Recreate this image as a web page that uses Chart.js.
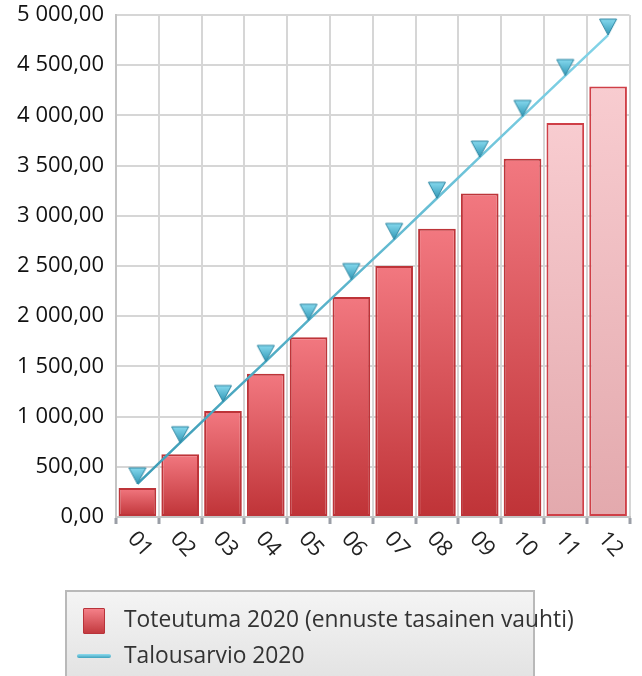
<!DOCTYPE html>
<html>
<head>
<meta charset="utf-8">
<script src="https://cdn.jsdelivr.net/npm/chart.js@4.4.0/dist/chart.umd.min.js"></script>
<style>
  html, body { margin: 0; padding: 0; background: #fff; }
  #wrap { position: relative; width: 642px; height: 676px; }
  #legend {
    position: absolute; left: 65px; top: 590px; width: 466px; height: 100px;
    border: 2px solid #b9b9b9; background: linear-gradient(#f4f4f4, #e0e0e0);
    font-family: "Open Sans", sans-serif; font-size: 22.8px; color: #333;
  }
  .item { position: absolute; left: 0; }
  .item span { position: absolute; left: 57px; white-space: nowrap; line-height: 30px; }
  .sq { position: absolute; left: 16px; width: 20px; height: 24px; border: 1px solid #b8333a;
        background: linear-gradient(#f48088, #c33a3f); border-radius: 1px; }
  .ln { position: absolute; left: 10px; width: 34px; height: 4px; border-radius: 2px;
        background: linear-gradient(#8fdcef, #3ea2bd); }
</style>
</head>
<body>
<div id="wrap">
  <canvas id="chart" width="642" height="676"></canvas>
  <div id="legend">
    <div class="item" style="top:28px"><div class="sq" style="top:-12px"></div><span style="top:-16px">Toteutuma 2020 (ennuste tasainen vauhti)</span></div>
    <div class="item" style="top:64px"><div class="ln" style="top:-2px"></div><span style="top:-16px">Talousarvio 2020</span></div>
  </div>
</div>
<script>
const months = ['01', '02', '03', '04', '05', '06', '07', '08', '09', '10', '11', '12'];
const actual = [290, 625, 1055, 1427, 1790, 2190, 2500, 2870, 3222, 3567, 3924, 4287];
const forecast = [false, false, false, false, false, false, false, false, false, false, true, true];
const budget = [330, 740, 1150, 1550, 1960, 2365, 2765, 3175, 3585, 3990, 4397, 4800];

function fiNumber(v) {
  const parts = v.toFixed(2).split('.');
  return parts[0].replace(/\B(?=(\d{3})+(?!\d))/g, ' ') + ',' + parts[1];
}

// downward triangle whose tip sits at the image centre (so the tip marks the value)
function makeMarker() {
  const c = document.createElement('canvas');
  c.width = 20;
  c.height = 36;
  const g = c.getContext('2d');
  const grad = g.createLinearGradient(0, 2, 0, 18);
  grad.addColorStop(0, '#86d9ee');
  grad.addColorStop(1, '#3198b6');
  g.beginPath();
  g.moveTo(1.5, 2);
  g.lineTo(18.5, 2);
  g.lineTo(10, 18);
  g.closePath();
  g.fillStyle = grad;
  g.fill();
  g.strokeStyle = '#2a84a0';
  g.lineWidth = 1;
  g.stroke();
  return c;
}
const marker = makeMarker();

function barFill(context) {
  const chart = context.chart;
  const y = chart.scales.y;
  if (!chart.chartArea || !y || context.dataIndex === undefined) return '#d9555b';
  const top = y.getPixelForValue(actual[context.dataIndex]);
  const bottom = y.getPixelForValue(0);
  const g = chart.ctx.createLinearGradient(0, top, 0, bottom);
  if (forecast[context.dataIndex]) {
    g.addColorStop(0, '#f8ccd0');
    g.addColorStop(1, '#e3a9ad');
  } else {
    g.addColorStop(0, '#f27880');
    g.addColorStop(1, '#bf3337');
  }
  return g;
}

function lineStroke(context) {
  const chart = context.chart;
  if (!chart.chartArea) return '#6cc6dd';
  const a = chart.chartArea;
  const g = chart.ctx.createLinearGradient(a.left, 0, a.right, 0);
  g.addColorStop(0, '#3a9ab4');
  g.addColorStop(1, '#86d6ea');
  return g;
}

// x labels rotated clockwise, starting at the tick
const slantedLabels = {
  id: 'slantedLabels',
  afterDraw(chart) {
    const ctx = chart.ctx;
    const x = chart.scales.x;
    const top = chart.chartArea.bottom;
    ctx.save();
    ctx.font = '22px "Open Sans"';
    ctx.fillStyle = '#222';
    ctx.textAlign = 'left';
    ctx.textBaseline = 'middle';
    months.forEach((m, i) => {
      const px = x.getPixelForValue(i);
      ctx.save();
      ctx.translate(px - 6, top + 18);
      ctx.rotate(48 * Math.PI / 180);
      ctx.fillText(m, 0, 0);
      ctx.restore();
    });
    ctx.restore();
  }
};

new Chart(document.getElementById('chart'), {
  type: 'bar',
  data: {
    labels: months,
    datasets: [{
      type: 'line',
      label: 'Talousarvio 2020',
      data: budget,
      borderColor: lineStroke,
      borderWidth: 2.5,
      pointStyle: marker,
      pointRadius: 10,
      pointHoverRadius: 10,
      tension: 0,
      order: 0
    }, {
      label: 'Toteutuma 2020 (ennuste tasainen vauhti)',
      data: actual,
      backgroundColor: barFill,
      borderColor: ctx => forecast[ctx.dataIndex] ? '#cf3f47' : '#bd3439',
      borderWidth: 2,
      borderSkipped: false,
      barPercentage: 0.88,
      categoryPercentage: 1,
      order: 1
    }]
  },
  options: {
    responsive: false,
    animation: false,
    layout: { padding: { top: 15, right: 10, left: 0, bottom: 0 } },
    plugins: { legend: { display: false }, tooltip: { enabled: false } },
    scales: {
      x: {
        grid: { color: '#d6d6d6', lineWidth: 2, offset: true, tickColor: '#9a9ea6', tickWidth: 3, tickLength: 7 },
        border: { color: '#c4c4c4', width: 2 },
        ticks: { display: false },
        afterFit(scale) { scale.height = 159; }
      },
      y: {
        min: 0,
        max: 5000,
        grid: { color: '#d6d6d6', lineWidth: 2, drawTicks: false },
        border: { color: '#c4c4c4', width: 2 },
        ticks: {
          stepSize: 500,
          padding: 12,
          color: '#111',
          font: { family: 'Open Sans', size: 22 },
          callback: v => fiNumber(v)
        },
        afterFit(scale) {
          scale.width = 116;
          scale.paddingTop = 0;
          scale.paddingBottom = 0;
        }
      }
    }
  },
  plugins: [slantedLabels]
});
</script>
</body>
</html>
